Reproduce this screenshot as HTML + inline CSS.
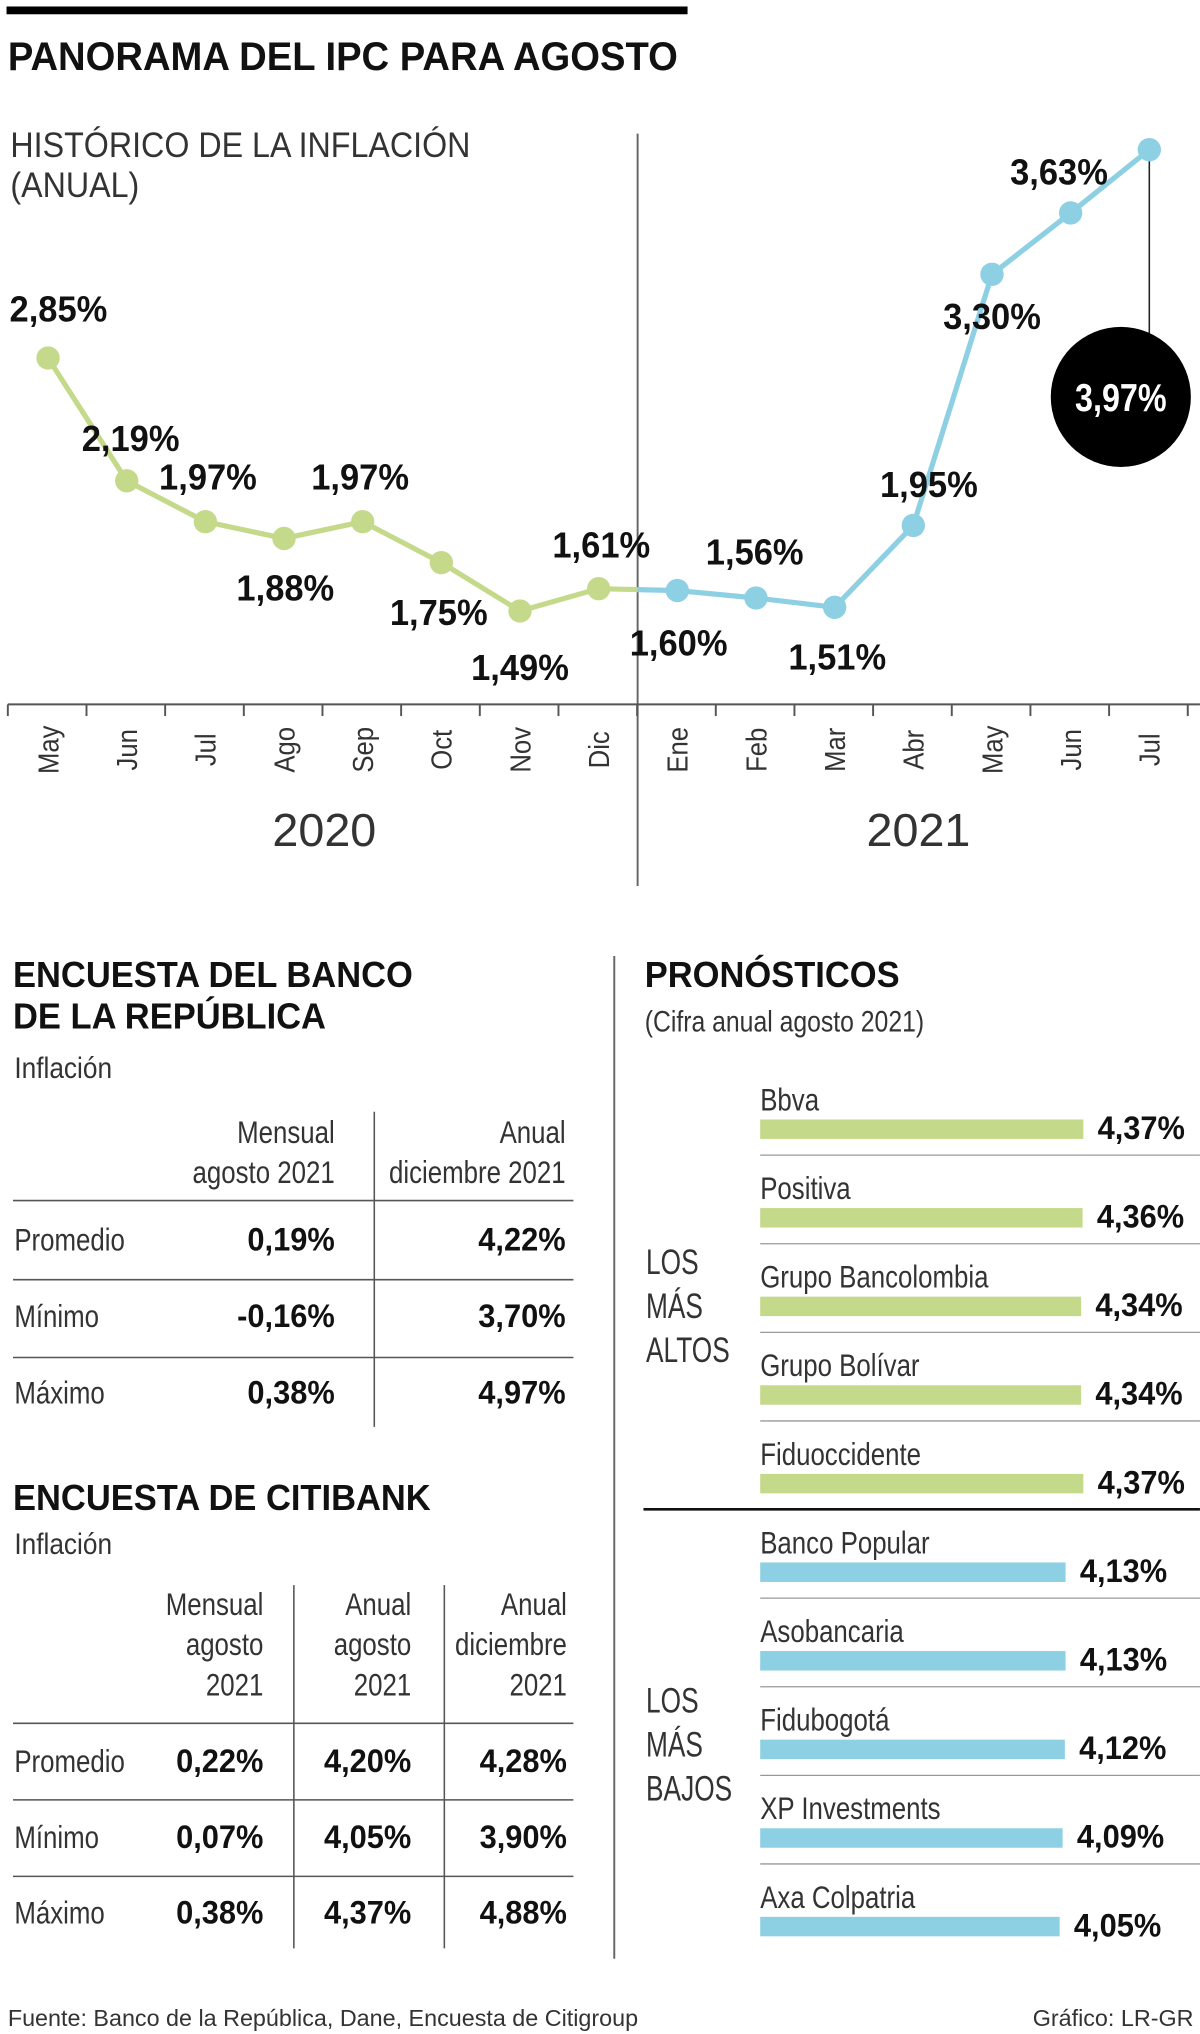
<!DOCTYPE html>
<html><head><meta charset="utf-8"><style>
html,body{margin:0;padding:0;background:#fff;}
svg{display:block;}
text{font-family:"Liberation Sans Narrow","Liberation Sans",sans-serif;fill:#222;}
.b{font-weight:bold;fill:#111;}
.l{fill:#333;}
</style></head><body>
<svg id="main" width="1200" height="2034" viewBox="0 0 925 1568" xmlns="http://www.w3.org/2000/svg">
<rect x="5" y="5" width="525" height="6" fill="#000"/>
<text x="6" y="54" class="b" font-size="31">PANORAMA DEL IPC PARA AGOSTO</text>
<text x="8" y="121" class="l" font-size="27" data-sx="0.92">HISTÓRICO DE LA INFLACIÓN</text>
<text x="8" y="152" class="l" font-size="27" data-sx="0.92">(ANUAL)</text>
<line x1="491.5" y1="103" x2="491.5" y2="683" stroke="#666" stroke-width="1.5"/>
<line x1="6" y1="543" x2="925" y2="543" stroke="#555" stroke-width="1.5"/>
<text x="250" y="652" text-anchor="middle" class="l" font-size="36" data-sx="1">2020</text>
<text x="708" y="652" text-anchor="middle" class="l" font-size="36" data-sx="1">2021</text>
<g id="chart"></g>

<text x="10" y="761" class="b" font-size="28">ENCUESTA DEL BANCO</text>
<text x="10" y="793" class="b" font-size="28">DE LA REPÚBLICA</text>
<text x="11" y="831" class="l" font-size="23" data-sx="0.88">Inflación</text>
<g id="t1"></g>
<text x="10" y="1164" class="b" font-size="28">ENCUESTA DE CITIBANK</text>
<text x="11" y="1198" class="l" font-size="23" data-sx="0.88">Inflación</text>
<g id="t2"></g>

<line x1="473.5" y1="737" x2="473.5" y2="1510" stroke="#666" stroke-width="1.5"/>
<text x="497" y="761" class="b" font-size="28">PRONÓSTICOS</text>
<text x="497" y="795" class="l" font-size="23">(Cifra anual agosto 2021)</text>
<g>
<text x="498" y="982" class="l" font-size="27" data-sx="0.75">LOS</text>
<text x="498" y="1016" class="l" font-size="27" data-sx="0.75">MÁS</text>
<text x="498" y="1050" class="l" font-size="27" data-sx="0.75">ALTOS</text></g>
<g>
<text x="498" y="1320" class="l" font-size="27" data-sx="0.75">LOS</text>
<text x="498" y="1354" class="l" font-size="27" data-sx="0.75">MÁS</text>
<text x="498" y="1388" class="l" font-size="27" data-sx="0.75">BAJOS</text></g>
<line x1="496" y1="1163.5" x2="925" y2="1163.5" stroke="#111" stroke-width="2"/>
<g id="bars"></g>

<text x="6" y="1562" class="l" font-size="18" data-sx="1">Fuente: Banco de la República, Dane, Encuesta de Citigroup</text>
<text x="920" y="1562" text-anchor="end" class="l" font-size="18" data-sx="1">Gráfico: LR-GR</text>
</svg>
<script>
const months = ["May","Jun","Jul","Ago","Sep","Oct","Nov","Dic","Ene","Feb","Mar","Abr","May","Jun","Jul"];
const inflation = [2.85,2.19,1.97,1.88,1.97,1.75,1.49,1.61,1.60,1.56,1.51,1.95,3.30,3.63,3.97];
const valueLabels = ["2,85%","2,19%","1,97%","1,88%","1,97%","1,75%","1,49%","1,61%","1,60%","1,56%","1,51%","1,95%","3,30%","3,63%","3,97%"];
const labelDx = [8,3,2,1,-2,-2,0,2,1,-1,2,12,0,-9,0];
const labelDy = [-38,-33,-35,38,-35,38,43,-34,40,-36,38,-32,32,-32,0];

const forecastNames = ["Bbva","Positiva","Grupo Bancolombia","Grupo Bolívar","Fiduoccidente","Banco Popular","Asobancaria","Fidubogotá","XP Investments","Axa Colpatria"];
const forecastValues = [4.37,4.36,4.34,4.34,4.37,4.13,4.13,4.12,4.09,4.05];
const forecastLabels = ["4,37%","4,36%","4,34%","4,34%","4,37%","4,13%","4,13%","4,12%","4,09%","4,05%"];

const banrepRows = ["Promedio","Mínimo","Máximo"];
const banrepMonthly = ["0,19%","-0,16%","0,38%"];
const banrepAnnual = ["4,22%","3,70%","4,97%"];
const citiRows = ["Promedio","Mínimo","Máximo"];
const citiMonthly = ["0,22%","0,07%","0,38%"];
const citiAug = ["4,20%","4,05%","4,37%"];
const citiDec = ["4,28%","3,90%","4,88%"];

const NS="http://www.w3.org/2000/svg";
function mk(tag,attrs,parent,txt){const e=document.createElementNS(NS,tag);for(const k in attrs)e.setAttribute(k,attrs[k]);if(txt!==undefined)e.textContent=txt;parent.appendChild(e);return e;}
const xS=i=>37+i*60.64;
const yS=v=>276-(v-2.85)*143.4;
const GREEN="#c5d98b", BLUE="#8dcfe3";
const chart=document.getElementById('chart');
for(let i=0;i<=15;i++){const x=6+i*60.64;const t=mk('line',{x1:x,y1:543,x2:x,y2:552,stroke:'#555','stroke-width':1.5},chart);

}
months.forEach((m,i)=>{const t=mk('text',{x:0,y:0,transform:`translate(${xS(i)+8},${578}) rotate(-90) scale(0.9,1)`,'text-anchor':'middle','font-size':22,class:'l','data-fixed':'1'},chart,m);

});
for(let i=1;i<inflation.length;i++){
  const x0=xS(i-1),y0=yS(inflation[i-1]),x1=xS(i),y1=yS(inflation[i]);
  if(i===8){const xm=491.5,ym=y0+(y1-y0)*(xm-x0)/(x1-x0);
    const a=mk('line',{x1:x0,y1:y0,x2:xm,y2:ym,stroke:GREEN,'stroke-width':4},chart);
    
    
    const b=mk('line',{x1:xm,y1:ym,x2:x1,y2:y1,stroke:BLUE,'stroke-width':4},chart);
    
    
  } else {const s=mk('line',{x1:x0,y1:y0,x2:x1,y2:y1,stroke:i<8?GREEN:BLUE,'stroke-width':4},chart);
    
    }
}
const last=inflation.length-1;
const conn=mk('line',{x1:xS(last),y1:yS(inflation[last]),x2:xS(last),y2:258,stroke:'#222','stroke-width':1.2},chart);


inflation.forEach((v,i)=>{
  const c=mk('circle',{cx:xS(i),cy:yS(v),r:9,fill:i<8?GREEN:BLUE},chart);
  
  
  if(i===last){
    const bc=mk('circle',{cx:864,cy:306,r:54,fill:'#000'},chart);
    
    
    const t=mk('text',{x:864,y:317,'text-anchor':'middle','font-size':30,'font-weight':'bold',style:'fill:#fff'},chart,valueLabels[i]);
    
    
  } else {
    const t=mk('text',{x:xS(i)+labelDx[i],y:yS(v)+labelDy[i]+10,'text-anchor':'middle','font-size':28,class:'b'},chart,valueLabels[i]);
    
    
  }
});
const bars=document.getElementById('bars');
forecastValues.forEach((v,i)=>{
  const top=863+i*68.3, w=v*57;
  const n=mk('text',{x:586,y:top-7,'font-size':24,class:'l'},bars,forecastNames[i]);
  
  
  const r=mk('rect',{x:586,y:top,width:w,height:15,fill:i<5?GREEN:BLUE},bars);
  
  
  const t=mk('text',{x:586+w+11,y:top+15,'font-size':25,class:'b'},bars,forecastLabels[i]);
  
  
  if(i!==4&&i!==9){const ln=mk('line',{x1:586,y1:top+27.5,x2:925,y2:top+27.5,stroke:'#999','stroke-width':1},bars);
  
  }
});
function hline(g,x1,x2,y){const l=mk('line',{x1,x2,y1:y,y2:y,stroke:'#555','stroke-width':1.2},g);

}
function vline(g,x,y1,y2){const l=mk('line',{x1:x,x2:x,y1,y2,stroke:'#555','stroke-width':1.2},g);

}
function txt(g,x,y,s,anchor,bold,name){const t=mk('text',{x,y,'text-anchor':anchor,'font-size':bold?25:24,class:bold?'b':'l'},g,s);

}
const t1=document.getElementById('t1');
vline(t1,288.5,857,1100);
txt(t1,258,881,'Mensual','end',false,'col-header');txt(t1,258,912,'agosto 2021','end',false,'col-header');
txt(t1,436,881,'Anual','end',false,'col-header');txt(t1,436,912,'diciembre 2021','end',false,'col-header');
[925,986,1046].forEach(y=>hline(t1,10,442,y+0.5));
banrepRows.forEach((r,i)=>{const y=964+i*59;txt(t1,11,y,r,'start',false,'row-label');txt(t1,258,y,banrepMonthly[i],'end',true,'cell-value');txt(t1,436,y,banrepAnnual[i],'end',true,'cell-value');});
const t2=document.getElementById('t2');
vline(t2,226.5,1222,1502);vline(t2,342.5,1222,1502);
const hdr=[["Mensual","agosto","2021",203],["Anual","agosto","2021",317],["Anual","diciembre","2021",437]];
hdr.forEach(h=>{[0,1,2].forEach(k=>txt(t2,h[3],1245+k*31,h[k],'end',false,'col-header'));});
[1328,1387,1446].forEach(y=>hline(t2,10,442,y+0.5));
citiRows.forEach((r,i)=>{const y=1366+i*58.5;txt(t2,11,y,r,'start',false,'row-label');txt(t2,203,y,citiMonthly[i],'end',true,'cell-value');txt(t2,317,y,citiAug[i],'end',true,'cell-value');txt(t2,437,y,citiDec[i],'end',true,'cell-value');});

// condense text horizontally (no narrow font available)
document.querySelectorAll('#main text').forEach(t=>{
  if(t.getAttribute('data-fixed'))return;
  let sx=t.getAttribute('data-sx');
  if(sx===null){sx=t.classList.contains('b')?0.95:0.83;}
  sx=parseFloat(sx);
  if(sx===1)return;
  const x=parseFloat(t.getAttribute('x')||0),y=parseFloat(t.getAttribute('y')||0);
  t.setAttribute('x',0);t.setAttribute('y',0);
  t.setAttribute('transform',`translate(${x},${y}) scale(${sx},1)`);
});
</script>
</body></html>
